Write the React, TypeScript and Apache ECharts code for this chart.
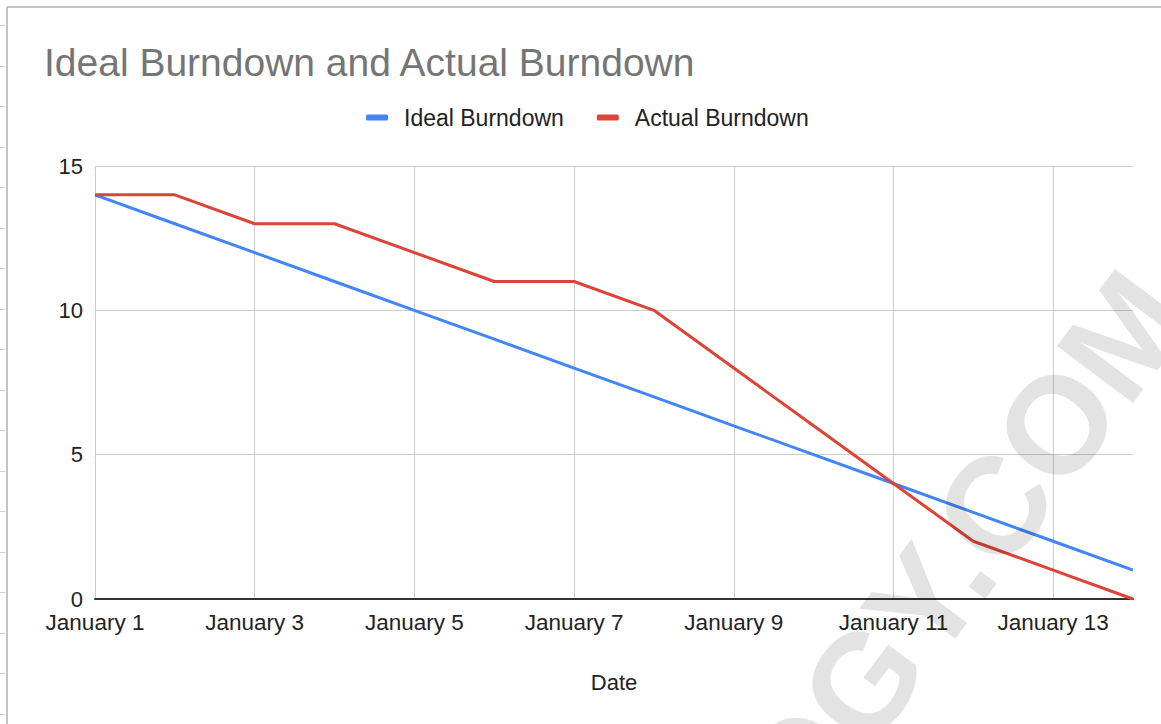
import React, { useEffect, useRef } from "react";
import * as echarts from "echarts";

const dates = [
  "January 1", "January 2", "January 3", "January 4", "January 5", "January 6", "January 7",
  "January 8", "January 9", "January 10", "January 11", "January 12", "January 13", "January 14",
];
const idealBurndown = [14, 13, 12, 11, 10, 9, 8, 7, 6, 5, 4, 3, 2, 1];
const actualBurndown = [14, 14, 13, 13, 12, 11, 11, 10, 8, 6, 4, 2, 1, 0];
const yTicks = { min: 0, max: 15, interval: 5 };

const FONT = "'Liberation Sans', Arial, Helvetica, sans-serif";

export default function App() {
  const ref = useRef<HTMLDivElement>(null);
  useEffect(() => {
    if (!ref.current) return;
    const chart = echarts.init(ref.current, null, { renderer: "svg" });

    const sideTicks: any[] = [];
    for (let y = 25; y < 724; y += 40.5) {
      sideTicks.push({
        type: "line",
        shape: { x1: 0, y1: Math.round(y) + 0.5, x2: 5, y2: Math.round(y) + 0.5 },
        style: { stroke: "#d0d0d0", lineWidth: 1 },
        silent: true,
      });
    }

    chart.setOption({
      animation: false,
      backgroundColor: "#ffffff",
      textStyle: { fontFamily: FONT },
      title: {
        text: "Ideal Burndown and Actual Burndown",
        left: 44,
        top: 43,
        padding: 0,
        textStyle: { fontSize: 39, fontWeight: "normal", color: "#757575", fontFamily: FONT },
      },
      legend: {
        left: 366,
        top: 106,
        padding: 0,
        itemWidth: 22,
        itemHeight: 6,
        itemGap: 33,
        icon: "roundRect",
        textStyle: { fontSize: 23, color: "#222222", fontFamily: FONT, padding: [0, 0, 0, 11] },
        data: ["Ideal Burndown", "Actual Burndown"],
      },
      grid: { left: 95, right: 28, top: 166, bottom: 125, containLabel: false },
      xAxis: {
        type: "category",
        data: dates,
        boundaryGap: false,
        name: "Date",
        nameLocation: "middle",
        nameGap: 72,
        nameTextStyle: { fontSize: 22, color: "#222222", fontFamily: FONT },
        axisLine: { show: true, lineStyle: { color: "#333333", width: 2 } },
        axisTick: { show: false },
        axisLabel: {
          interval: 1,
          fontSize: 22.5,
          lineHeight: 22,
          color: "#222222",
          margin: 12,
          fontFamily: FONT,
        },
        splitLine: { show: true, interval: 1, lineStyle: { color: "#cccccc", width: 1 } },
      },
      yAxis: {
        type: "value",
        min: yTicks.min,
        max: yTicks.max,
        interval: yTicks.interval,
        axisLine: { show: false },
        axisTick: { show: false },
        axisLabel: {
          fontSize: 22,
          lineHeight: 16,
          color: "#222222",
          margin: 12,
          fontFamily: FONT,
        },
        splitLine: { show: true, lineStyle: { color: "#cccccc", width: 1 } },
      },
      series: [
        {
          name: "Ideal Burndown",
          type: "line",
          data: idealBurndown,
          symbol: "none",
          color: "#4285f4",
          lineStyle: { width: 3, color: "#4285f4" },
        },
        {
          name: "Actual Burndown",
          type: "line",
          data: actualBurndown,
          symbol: "none",
          color: "#db4437",
          lineStyle: { width: 3, color: "#db4437" },
        },
      ],
      graphic: [
        {
          type: "line",
          shape: { x1: 7, y1: 7, x2: 1161, y2: 7 },
          style: { stroke: "#b0b0b0", lineWidth: 1.5 },
          silent: true,
        },
        {
          type: "line",
          shape: { x1: 7, y1: 7, x2: 7, y2: 724 },
          style: { stroke: "#b0b0b0", lineWidth: 1.5 },
          silent: true,
        },
        ...sideTicks,
        {
          type: "text",
          x: 962,
          y: 550,
          rotation: (53 * Math.PI) / 180,
          silent: true,
          z: 100,
          style: {
            text: "OGY.COM",
            fontSize: 138,
            fontWeight: "bold",
            fontFamily: FONT,
            fill: "rgba(0,0,0,0.11)",
            align: "center",
            verticalAlign: "middle",
          },
        },
      ],
    });
    return () => chart.dispose();
  }, []);

  return (
    <div
      ref={ref}
      style={{ position: "fixed", left: 0, top: 0, width: 1161, height: 724, background: "#fff" }}
    />
  );
}
